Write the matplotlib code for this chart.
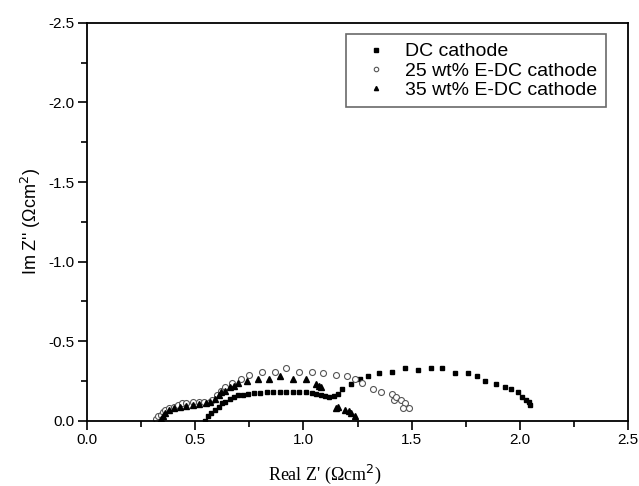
import matplotlib.pyplot as plt
from matplotlib.ticker import MultipleLocator

# DC cathode
dc_x = [0.545, 0.56, 0.575, 0.59, 0.61, 0.625, 0.64, 0.66, 0.68, 0.70, 0.72, 0.745, 0.77, 0.80,
        0.83, 0.86, 0.89, 0.92, 0.95, 0.98, 1.01, 1.04, 1.06, 1.08, 1.10, 1.12, 1.14, 1.16,
        1.18, 1.22, 1.26, 1.30, 1.35, 1.41, 1.47, 1.53, 1.59, 1.64, 1.70, 1.76, 1.80, 1.84,
        1.89, 1.93, 1.96, 1.99, 2.01, 2.03, 2.04, 2.045]
dc_y = [-0.0, -0.03, -0.05, -0.07, -0.09, -0.11, -0.12, -0.14, -0.15, -0.16, -0.165, -0.17, -0.175, -0.175,
        -0.18, -0.18, -0.18, -0.18, -0.18, -0.18, -0.18, -0.175, -0.17, -0.16, -0.155, -0.15, -0.155, -0.17,
        -0.20, -0.23, -0.26, -0.28, -0.30, -0.31, -0.33, -0.32, -0.33, -0.33, -0.30, -0.30, -0.28, -0.25,
        -0.23, -0.21, -0.20, -0.18, -0.15, -0.13, -0.12, -0.10]

# 25 wt% E-DC cathode
e25_x = [0.32, 0.33, 0.34, 0.35, 0.36, 0.38, 0.40, 0.42, 0.44, 0.46, 0.49, 0.52, 0.54, 0.57,
         0.58, 0.60, 0.62, 0.64, 0.67, 0.71, 0.75, 0.81, 0.87, 0.92, 0.98, 1.04, 1.09, 1.15,
         1.20, 1.24, 1.27, 1.32, 1.36, 1.41, 1.42, 1.43, 1.45, 1.47, 1.46, 1.49]
e25_y = [-0.01, -0.03, -0.04, -0.055, -0.07, -0.08, -0.09, -0.10, -0.11, -0.115, -0.12, -0.12, -0.12, -0.12,
         -0.13, -0.16, -0.19, -0.21, -0.24, -0.26, -0.29, -0.31, -0.31, -0.33, -0.31, -0.31, -0.30, -0.29,
         -0.28, -0.26, -0.24, -0.20, -0.18, -0.17, -0.13, -0.15, -0.13, -0.11, -0.08, -0.08]

# 35 wt% E-DC cathode
e35_x = [0.34, 0.35, 0.36, 0.38, 0.40, 0.43, 0.46, 0.49, 0.52, 0.55, 0.57, 0.59, 0.61, 0.62,
         0.64, 0.66, 0.68, 0.70, 0.74, 0.79, 0.84, 0.89, 0.95, 1.01, 1.06, 1.07, 1.08,
         1.15, 1.16, 1.19, 1.21, 1.22, 1.24]
e35_y = [-0.01, -0.03, -0.05, -0.07, -0.08, -0.09, -0.095, -0.10, -0.105, -0.11, -0.12, -0.14, -0.16, -0.18,
         -0.19, -0.21, -0.22, -0.24, -0.25, -0.26, -0.26, -0.28, -0.26, -0.26, -0.23, -0.22, -0.21,
         -0.08, -0.09, -0.07, -0.06, -0.05, -0.03]

plt.rcParams['font.family'] = ['Liberation Sans', 'DejaVu Sans']
plt.rcParams['axes.unicode_minus'] = False

fig = plt.figure(figsize=(6.39, 4.86), dpi=100)
ax = fig.add_axes([0.136, 0.134, 0.847, 0.819])

ax.plot(dc_x, dc_y, 's', color='black', markersize=3.5, label='DC cathode')
ax.plot(e25_x, e25_y, 'o', mfc='white', mec='#555555', mew=0.8, markersize=4.3, label='25 wt% E-DC cathode')
ax.plot(e35_x, e35_y, '^', color='black', markersize=4, label='35 wt% E-DC cathode')

ax.set_xlim(0, 2.5)
ax.set_ylim(0, -2.5)
ax.xaxis.set_major_locator(MultipleLocator(0.5))
ax.xaxis.set_minor_locator(MultipleLocator(0.25))
ax.yaxis.set_major_locator(MultipleLocator(0.5))
ax.yaxis.set_minor_locator(MultipleLocator(0.25))
ax.tick_params(which='both', direction='out', top=False, right=False, labelsize=11, width=1.2, pad=2.5)
ax.tick_params(which='major', length=6.5)
ax.tick_params(which='minor', length=4)
for s in ax.spines.values():
    s.set_linewidth(1.3)

ax.set_xlabel("Real Z' (\u03a9cm$^2$)", family='Liberation Serif', fontsize=13)
ax.xaxis.set_label_coords(0.44, -0.105)
ax.set_ylabel("Im Z'' (\u03a9cm$^2$)", fontsize=13)

leg = ax.legend(loc='upper right', bbox_to_anchor=(0.959, 0.972), borderaxespad=0, fontsize=14,
                fancybox=False, edgecolor='#444444', markerscale=0.75, handlelength=2.2,
                handletextpad=0.4, borderpad=0.45, labelspacing=0.08)
leg.get_frame().set_linewidth(1.2)

fig.savefig('out.png', dpi=100)
